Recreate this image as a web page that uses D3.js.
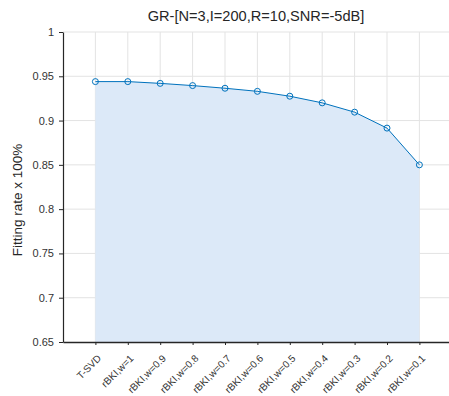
<!DOCTYPE html>
<html>
<head>
<meta charset="utf-8">
<script src="https://cdn.jsdelivr.net/npm/d3@7"></script>
<style>
  body { margin: 0; background: #fff; }
  svg { display: block; font-family: "Liberation Sans", Arial, sans-serif; }
</style>
</head>
<body>
<script>
const categories = ["T-SVD", "rBKI,w=1", "rBKI,w=0.9", "rBKI,w=0.8", "rBKI,w=0.7", "rBKI,w=0.6",
    "rBKI,w=0.5", "rBKI,w=0.4", "rBKI,w=0.3", "rBKI,w=0.2", "rBKI,w=0.1"];
const fitRate = [0.944, 0.944, 0.942, 0.9395, 0.9365, 0.933, 0.9275, 0.920, 0.9095, 0.8915, 0.850];
const yTicks = [0.65, 0.7, 0.75, 0.8, 0.85, 0.9, 0.95, 1];
const titleText = "GR-[N=3,I=200,R=10,SNR=-5dB]";
const yLabel = "Fitting rate x 100%";

const W = 449, H = 396;
const margin = {top: 32, right: 0, bottom: 54, left: 63};
const height = H - margin.top - margin.bottom;

const svg = d3.select("body").append("svg")
    .attr("width", W)
    .attr("height", H);

// index scale, one empty slot to the left, plot runs past the right edge
const xScale = d3.scaleLinear()
    .domain([-1, 12])
    .range([margin.left, margin.left + 13 * 32.4]);

const yScale = d3.scaleLinear()
    .domain([0.65, 1])
    .range([margin.top + height, margin.top]);

const idx = d3.range(categories.length);

// grid
svg.append("g").selectAll("line.v")
    .data(idx)
    .enter().append("line")
    .attr("x1", d => xScale(d)).attr("x2", d => xScale(d))
    .attr("y1", yScale(1)).attr("y2", yScale(0.65))
    .attr("stroke", "#e3e3e3");

svg.append("g").selectAll("line.h")
    .data(yTicks.slice(1))
    .enter().append("line")
    .attr("x1", margin.left).attr("x2", W)
    .attr("y1", d => yScale(d)).attr("y2", d => yScale(d))
    .attr("stroke", "#e3e3e3");

// area
const area = d3.area()
    .x((d, i) => xScale(i))
    .y0(yScale(0.65))
    .y1(d => yScale(d));

svg.append("path")
    .datum(fitRate)
    .attr("d", area)
    .attr("fill", "#dce9f8");

const line = d3.line()
    .x((d, i) => xScale(i))
    .y(d => yScale(d));

svg.append("path")
    .datum(fitRate)
    .attr("d", line)
    .attr("fill", "none")
    .attr("stroke", "#0072bd")
    .attr("stroke-width", 1);

svg.append("g").selectAll("circle")
    .data(fitRate)
    .enter().append("circle")
    .attr("cx", (d, i) => xScale(i))
    .attr("cy", d => yScale(d))
    .attr("r", 3)
    .attr("fill", "none")
    .attr("stroke", "#0072bd")
    .attr("stroke-width", 1);

// y axis
const yAxis = svg.append("g")
    .attr("transform", "translate(" + margin.left + ",0)")
    .call(d3.axisLeft(yScale).tickValues(yTicks).tickSize(4).tickSizeOuter(0).tickPadding(5)
        .tickFormat(d => d3.format("")(+d.toFixed(2))));
yAxis.select(".domain").attr("stroke", "#262626").attr("stroke-width", 1.2);
yAxis.selectAll(".tick line").attr("stroke", "#262626");
yAxis.selectAll(".tick text").attr("fill", "#333").attr("font-size", 11)
    .attr("font-family", "Liberation Sans, Arial, sans-serif");

// x axis
const xAxis = svg.append("g")
    .attr("transform", "translate(0," + yScale(0.65) + ")")
    .call(d3.axisBottom(xScale).tickValues(idx).tickSize(3).tickSizeOuter(0)
        .tickFormat(i => categories[i]));
xAxis.select(".domain").attr("stroke", "#262626").attr("stroke-width", 1.6);
xAxis.selectAll(".tick line").attr("stroke", "#262626");
xAxis.selectAll(".tick text")
    .attr("fill", "#333")
    .attr("font-size", 10)
    .attr("font-family", "Liberation Sans, Arial, sans-serif")
    .attr("text-anchor", "end")
    .attr("dy", null)
    .attr("y", 0)
    .attr("transform", "translate(6,17) rotate(-45)");

// title and label
svg.append("text")
    .attr("x", 256).attr("y", 21)
    .attr("text-anchor", "middle")
    .attr("font-size", 14.6)
    .attr("fill", "#262626")
    .text(titleText);

svg.append("text")
    .attr("transform", "translate(22,200) rotate(-90)")
    .attr("text-anchor", "middle")
    .attr("font-size", 13.5)
    .attr("fill", "#262626")
    .text(yLabel);
</script>
</body>
</html>
